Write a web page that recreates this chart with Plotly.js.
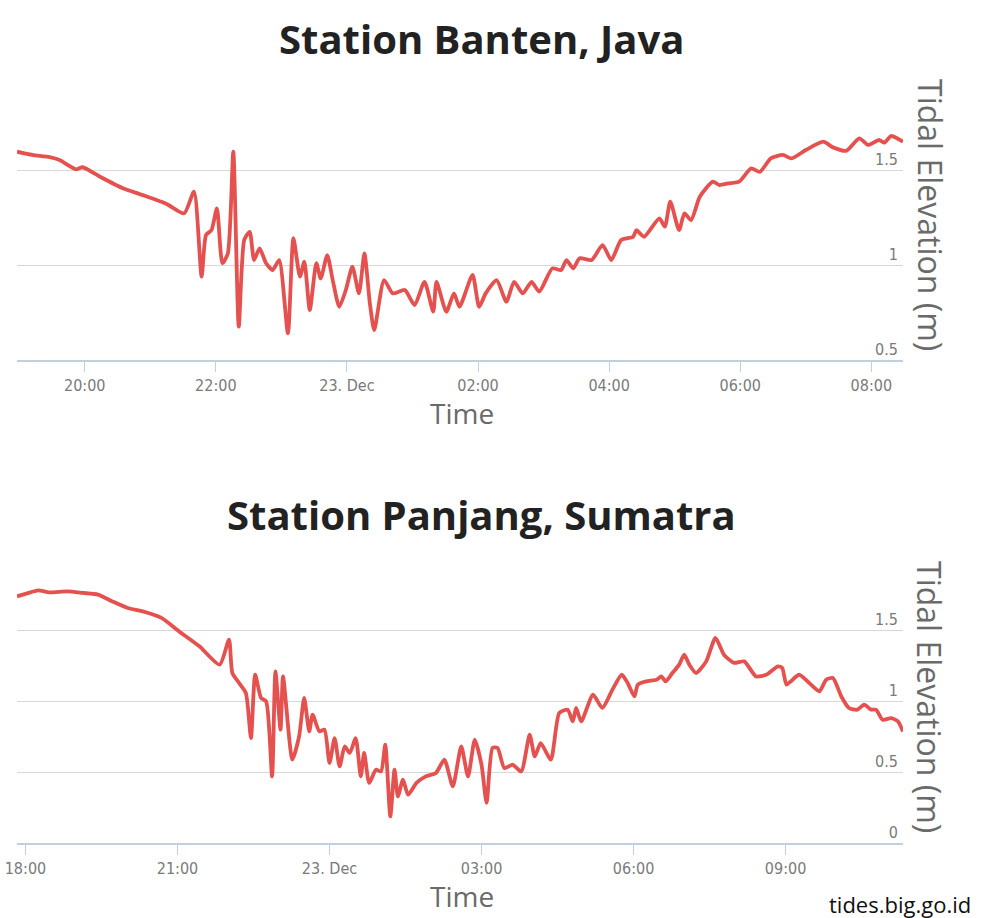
<!DOCTYPE html>
<html><head><meta charset="utf-8">
<script src="https://cdn.plot.ly/plotly-3.0.1.min.js"></script>
<style>html,body{margin:0;padding:0;background:#fff}#chart{width:997px;height:918px}</style>
</head><body><div id="chart"></div>
<script>
const bantenTimes = [
'2018-12-22 18:58','2018-12-22 19:12','2018-12-22 19:28','2018-12-22 19:37','2018-12-22 19:52','2018-12-22 19:58',
'2018-12-22 20:14','2018-12-22 20:35','2018-12-22 20:53','2018-12-22 21:15','2018-12-22 21:31','2018-12-22 21:40',
'2018-12-22 21:47','2018-12-22 21:51','2018-12-22 21:56','2018-12-22 22:01','2018-12-22 22:06','2018-12-22 22:11',
'2018-12-22 22:16','2018-12-22 22:21','2018-12-22 22:26','2018-12-22 22:31','2018-12-22 22:35','2018-12-22 22:40',
'2018-12-22 22:46','2018-12-22 22:52','2018-12-22 22:58','2018-12-22 23:06','2018-12-22 23:11','2018-12-22 23:17',
'2018-12-22 23:21','2018-12-22 23:26','2018-12-22 23:32','2018-12-22 23:36','2018-12-22 23:42','2018-12-22 23:47',
'2018-12-22 23:53','2018-12-22 23:59','2018-12-23 00:05','2018-12-23 00:11','2018-12-23 00:16','2018-12-23 00:21',
'2018-12-23 00:25','2018-12-23 00:34','2018-12-23 00:42','2018-12-23 00:53','2018-12-23 01:02','2018-12-23 01:11',
'2018-12-23 01:19','2018-12-23 01:22','2018-12-23 01:31','2018-12-23 01:38','2018-12-23 01:43','2018-12-23 01:55',
'2018-12-23 02:01','2018-12-23 02:07','2018-12-23 02:17','2018-12-23 02:26','2018-12-23 02:33','2018-12-23 02:41',
'2018-12-23 02:49','2018-12-23 02:56','2018-12-23 03:08','2018-12-23 03:16','2018-12-23 03:21','2018-12-23 03:27',
'2018-12-23 03:33','2018-12-23 03:44','2018-12-23 03:54','2018-12-23 04:02','2018-12-23 04:11','2018-12-23 04:22',
'2018-12-23 04:25','2018-12-23 04:32','2018-12-23 04:46','2018-12-23 04:51','2018-12-23 04:56','2018-12-23 05:04',
'2018-12-23 05:09','2018-12-23 05:15','2018-12-23 05:23','2018-12-23 05:35','2018-12-23 05:41','2018-12-23 05:49',
'2018-12-23 05:59','2018-12-23 06:10','2018-12-23 06:18','2018-12-23 06:28','2018-12-23 06:39','2018-12-23 06:47',
'2018-12-23 07:00','2018-12-23 07:16','2018-12-23 07:25','2018-12-23 07:37','2018-12-23 07:49','2018-12-23 07:57',
'2018-12-23 08:07','2018-12-23 08:12','2018-12-23 08:18','2018-12-23 08:29'];
const bantenLevels = [
1.600,1.583,1.571,1.556,1.507,1.518,
1.468,1.407,1.371,1.324,1.275,1.389,
0.940,1.160,1.186,1.301,1.011,1.063,
1.600,0.676,1.134,1.177,1.028,1.090,
1.011,0.975,1.028,0.641,1.143,0.940,
1.019,0.764,1.011,0.931,1.054,0.922,
0.781,0.870,0.993,0.852,1.063,0.799,
0.658,0.922,0.852,0.870,0.790,0.913,
0.755,0.913,0.755,0.852,0.781,0.949,
0.781,0.852,0.922,0.808,0.913,0.852,
0.913,0.861,0.984,0.975,1.028,0.984,
1.037,1.028,1.107,1.028,1.134,1.151,
1.186,1.151,1.248,1.204,1.336,1.186,
1.275,1.239,1.362,1.442,1.424,1.433,
1.442,1.512,1.494,1.565,1.583,1.565,
1.609,1.653,1.623,1.605,1.671,1.636,
1.662,1.648,1.683,1.653];

const panjangTimes = [
'2018-12-22 17:50','2018-12-22 18:01','2018-12-22 18:15','2018-12-22 18:28','2018-12-22 18:50','2018-12-22 19:08',
'2018-12-22 19:26','2018-12-22 19:43','2018-12-22 20:01','2018-12-22 20:19','2018-12-22 20:41','2018-12-22 21:02',
'2018-12-22 21:26','2018-12-22 21:50','2018-12-22 22:01','2018-12-22 22:05','2018-12-22 22:13','2018-12-22 22:21',
'2018-12-22 22:27','2018-12-22 22:32','2018-12-22 22:39','2018-12-22 22:45','2018-12-22 22:52','2018-12-22 22:56',
'2018-12-22 23:02','2018-12-22 23:05','2018-12-22 23:16','2018-12-22 23:24','2018-12-22 23:30','2018-12-22 23:36',
'2018-12-22 23:40','2018-12-22 23:48','2018-12-22 23:54','2018-12-23 00:00','2018-12-23 00:06','2018-12-23 00:12',
'2018-12-23 00:18','2018-12-23 00:24','2018-12-23 00:31','2018-12-23 00:37','2018-12-23 00:41','2018-12-23 00:47',
'2018-12-23 00:55','2018-12-23 01:01','2018-12-23 01:06','2018-12-23 01:12','2018-12-23 01:17','2018-12-23 01:21',
'2018-12-23 01:27','2018-12-23 01:33','2018-12-23 01:43','2018-12-23 01:54','2018-12-23 02:06','2018-12-23 02:16',
'2018-12-23 02:26','2018-12-23 02:36','2018-12-23 02:44','2018-12-23 02:52','2018-12-23 03:00','2018-12-23 03:06',
'2018-12-23 03:13','2018-12-23 03:19','2018-12-23 03:27','2018-12-23 03:37','2018-12-23 03:47','2018-12-23 03:57',
'2018-12-23 04:03','2018-12-23 04:10','2018-12-23 04:22','2018-12-23 04:32','2018-12-23 04:42','2018-12-23 04:48',
'2018-12-23 04:52','2018-12-23 04:58','2018-12-23 05:12','2018-12-23 05:23','2018-12-23 05:35','2018-12-23 05:46',
'2018-12-23 05:53','2018-12-23 06:01','2018-12-23 06:05','2018-12-23 06:15','2018-12-23 06:27','2018-12-23 06:33',
'2018-12-23 06:38','2018-12-23 06:46','2018-12-23 06:54','2018-12-23 07:00','2018-12-23 07:06','2018-12-23 07:14',
'2018-12-23 07:26','2018-12-23 07:37','2018-12-23 07:47','2018-12-23 07:59','2018-12-23 08:11','2018-12-23 08:25',
'2018-12-23 08:37','2018-12-23 08:51','2018-12-23 08:56','2018-12-23 09:01','2018-12-23 09:06','2018-12-23 09:16',
'2018-12-23 09:28','2018-12-23 09:40','2018-12-23 09:48','2018-12-23 09:56','2018-12-23 10:06','2018-12-23 10:15',
'2018-12-23 10:25','2018-12-23 10:33','2018-12-23 10:41','2018-12-23 10:47','2018-12-23 10:55','2018-12-23 11:05',
'2018-12-23 11:13','2018-12-23 11:19'];
const panjangLevels = [
1.737,1.756,1.779,1.765,1.772,1.761,
1.749,1.701,1.655,1.631,1.585,1.490,
1.385,1.256,1.432,1.197,1.127,1.056,
0.739,1.185,1.021,0.997,0.469,1.208,
0.798,1.173,0.587,0.751,1.021,0.786,
0.904,0.786,0.798,0.563,0.739,0.539,
0.680,0.634,0.739,0.469,0.634,0.423,
0.516,0.504,0.692,0.187,0.516,0.328,
0.446,0.340,0.423,0.469,0.493,0.587,
0.399,0.680,0.469,0.727,0.550,0.282,
0.670,0.669,0.528,0.551,0.504,0.763,
0.610,0.704,0.587,0.915,0.939,0.856,
0.951,0.856,1.044,0.951,1.080,1.185,
1.127,1.032,1.115,1.138,1.150,1.173,
1.138,1.197,1.256,1.326,1.256,1.197,
1.279,1.444,1.326,1.268,1.279,1.173,
1.185,1.244,1.232,1.115,1.138,1.185,
1.127,1.068,1.150,1.162,1.032,0.951,
0.939,0.974,0.939,0.939,0.868,0.880,
0.856,0.786];

const bantenTickVals = ['2018-12-22 20:00','2018-12-22 22:00','2018-12-23 00:00','2018-12-23 02:00','2018-12-23 04:00','2018-12-23 06:00','2018-12-23 08:00'];
const bantenTickText = ['20:00','22:00','23. Dec','02:00','04:00','06:00','08:00'];
const panjangTickVals = ['2018-12-22 18:00','2018-12-22 21:00','2018-12-23 00:00','2018-12-23 03:00','2018-12-23 06:00','2018-12-23 09:00'];
const panjangTickText = ['18:00','21:00','23. Dec','03:00','06:00','09:00'];
const bantenLevelTicks = [0.5, 1, 1.5, 2];
const bantenLevelText = ['0.5', '1', '1.5', ''];
const panjangLevelTicks = [0, 0.5, 1, 1.5, 2];
const panjangLevelText = ['0', '0.5', '1', '1.5', ''];

const titleTop = 'Station Banten, Java';
const titleBottom = 'Station Panjang, Sumatra';
const xTitle = 'Time';
const yTitle = 'Tidal Elevation (m)';
const credit = 'tides.big.go.id';

const W = 997, H = 918, L = 17, R = 94;
const px = x => (x - L) / (W - L - R);
const py = y => (H - y) / H;

const lineStyle = {color: '#e5514f', width: 3.8, shape: 'spline', smoothing: 0.6};
const tickFont = {family: '"Liberation Sans Narrow", "DejaVu Sans Condensed", sans-serif', size: 16, color: '#7a7a7a'};

function xAxis(vals, text, range, anchor) {
  return {
    type: 'date', range: range, anchor: anchor,
    tickmode: 'array', tickvals: vals, ticktext: text,
    showgrid: false, zeroline: false,
    showline: true, linecolor: '#c0d0e0', linewidth: 2,
    ticks: 'outside', ticklen: 10, tickwidth: 1, tickcolor: '#c0d0e0',
    tickfont: tickFont, fixedrange: true
  };
}
function yAxis(vals, text, range, domain, anchor) {
  return {
    range: range, domain: domain, anchor: anchor, side: 'right',
    tickmode: 'array', tickvals: vals, ticktext: text,
    ticklabelposition: 'inside', ticks: '', ticklabelshift: -11, ticklabelstandoff: 2,
    showgrid: true, gridcolor: '#d8d8d8', gridwidth: 1,
    zeroline: false, showline: false,
    tickfont: tickFont, fixedrange: true
  };
}

const data = [
  {x: bantenTimes, y: bantenLevels, type: 'scatter', mode: 'lines', line: lineStyle, xaxis: 'x', yaxis: 'y', hoverinfo: 'skip'},
  {x: panjangTimes, y: panjangLevels, type: 'scatter', mode: 'lines', line: lineStyle, xaxis: 'x2', yaxis: 'y2', hoverinfo: 'skip'}
];

const titleFont = {family: '"Open Sans", sans-serif', size: 40, color: '#222222', weight: 700};
const xTitleFont = {family: '"Open Sans", sans-serif', size: 28, color: '#6a6a6a'};
const yTitleFont = {family: '"Open Sans", sans-serif', size: 32, color: '#6a6a6a'};

const layout = {
  width: W, height: H,
  margin: {l: L, r: R, t: 0, b: 0},
  paper_bgcolor: '#ffffff', plot_bgcolor: '#ffffff',
  showlegend: false,
  xaxis: xAxis(bantenTickVals, bantenTickText, ['2018-12-22 18:58', '2018-12-23 08:29'], 'y'),
  yaxis: yAxis(bantenLevelTicks, bantenLevelText, [0.5, 2], [py(360), py(76)], 'x'),
  xaxis2: xAxis(panjangTickVals, panjangTickText, ['2018-12-22 17:50', '2018-12-23 11:19'], 'y2'),
  yaxis2: yAxis(panjangLevelTicks, panjangLevelText, [0, 2], [py(843), py(559)], 'x2'),
  annotations: [
    {text: '<b>' + titleTop + '</b>', xref: 'paper', yref: 'paper', x: px(481), y: py(38), xanchor: 'center', yanchor: 'middle', showarrow: false, font: titleFont},
    {text: '<b>' + titleBottom + '</b>', xref: 'paper', yref: 'paper', x: px(482), y: py(514), xanchor: 'center', yanchor: 'middle', showarrow: false, font: titleFont},
    {text: xTitle, xref: 'paper', yref: 'paper', x: px(462), y: py(413), xanchor: 'center', yanchor: 'middle', showarrow: false, font: xTitleFont},
    {text: xTitle, xref: 'paper', yref: 'paper', x: px(462), y: py(896), xanchor: 'center', yanchor: 'middle', showarrow: false, font: xTitleFont},
    {text: yTitle, xref: 'paper', yref: 'paper', x: px(930), y: py(215), xanchor: 'center', yanchor: 'middle', textangle: 90, showarrow: false, font: yTitleFont},
    {text: yTitle, xref: 'paper', yref: 'paper', x: px(930), y: py(697), xanchor: 'center', yanchor: 'middle', textangle: 90, showarrow: false, font: yTitleFont},
    {text: credit, xref: 'paper', yref: 'paper', x: px(900), y: py(904), xanchor: 'center', yanchor: 'middle', showarrow: false, font: {family: '"Open Sans", sans-serif', size: 22, color: '#111111'}}
  ]
};

Plotly.newPlot('chart', data, layout, {displayModeBar: false, staticPlot: true});
</script>
</body></html>
